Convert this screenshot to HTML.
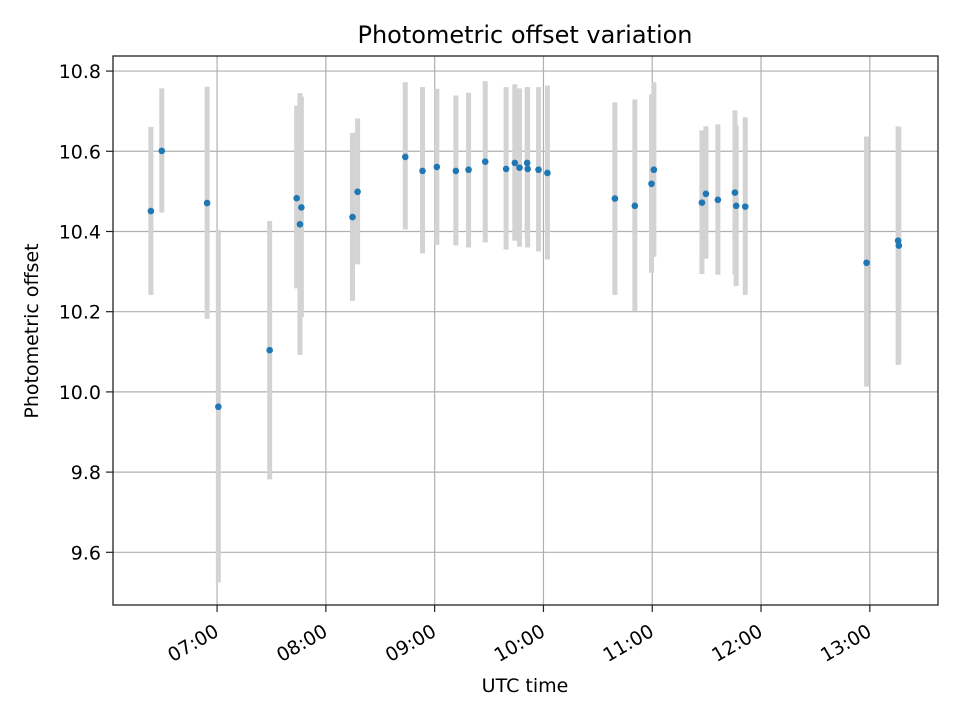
<!DOCTYPE html>
<html><head><meta charset="utf-8"><style>
html,body{margin:0;padding:0;background:#fff;}
svg{display:block;font-family:"DejaVu Sans","Liberation Sans",sans-serif;}
</style></head><body>
<svg id="chart" width="960" height="720" viewBox="0 0 960 720">
<rect x="0" y="0" width="960" height="720" fill="#fff"/>
<text x="525" y="43" font-size="24" text-anchor="middle">Photometric offset variation</text>
<g id="grid"></g>
<g id="bars"></g>
<g id="points"></g>
<rect x="113" y="56" width="825" height="549" fill="none" stroke="#222" stroke-width="1.3"/>
<g id="xaxis"></g>
<g id="yaxis"></g>
<text x="525" y="692" font-size="19" text-anchor="middle">UTC time</text>
<text x="0" y="0" font-size="19" text-anchor="middle" transform="translate(38,331) rotate(-90)">Photometric offset</text>
</svg>
<script>
const times = ["06:23:30","06:29:30","06:54:30","07:00:42","07:29:00","07:43:54","07:45:42","07:46:30","08:14:42","08:17:30","08:43:48","08:53:18","09:01:12","09:11:42","09:18:42","09:27:54","09:39:24","09:44:12","09:46:48","09:51:00","09:51:18","09:57:18","10:02:12","10:39:24","10:50:24","10:59:36","11:00:54","11:27:24","11:29:36","11:36:12","11:45:36","11:46:18","11:51:18","12:58:12","13:15:36","13:16:00"];
const offsets = [10.451,10.601,10.471,9.963,10.104,10.483,10.418,10.460,10.436,10.499,10.586,10.551,10.561,10.551,10.554,10.574,10.556,10.571,10.559,10.571,10.556,10.554,10.546,10.482,10.464,10.519,10.554,10.472,10.494,10.479,10.497,10.464,10.462,10.322,10.377,10.365];
const lower = [10.242,10.447,10.182,9.525,9.782,10.258,10.092,10.186,10.227,10.318,10.405,10.345,10.367,10.365,10.360,10.373,10.355,10.377,10.362,10.384,10.360,10.350,10.330,10.242,10.201,10.297,10.337,10.294,10.332,10.292,10.292,10.264,10.242,10.013,10.067,10.070];
const upper = [10.661,10.757,10.761,10.404,10.426,10.714,10.745,10.736,10.646,10.682,10.772,10.760,10.756,10.739,10.746,10.775,10.760,10.767,10.757,10.760,10.760,10.760,10.764,10.722,10.729,10.742,10.772,10.652,10.662,10.667,10.702,10.665,10.685,10.637,10.662,10.660];
const xTickLabels = ["07:00","08:00","09:00","10:00","11:00","12:00","13:00"];
const yTickLabels = ["9.6","9.8","10.0","10.2","10.4","10.6","10.8"];

const NS = "http://www.w3.org/2000/svg";
const PX0 = 113, PX1 = 938, PY0 = 56, PY1 = 605;
const XMIN = 362.6, XMAX = 817.6, YMIN = 9.4686, YMAX = 10.8376;
function toMin(s){const p=s.split(":").map(Number);return p[0]*60+p[1]+(p[2]||0)/60;}
function xs(m){return PX0+(m-XMIN)/(XMAX-XMIN)*(PX1-PX0);}
function ys(v){return PY1-(v-YMIN)/(YMAX-YMIN)*(PY1-PY0);}
function mk(tag,attrs,parent){const e=document.createElementNS(NS,tag);for(const k in attrs)e.setAttribute(k,attrs[k]);parent.appendChild(e);return e;}

const grid=document.getElementById("grid"), bars=document.getElementById("bars"), pts=document.getElementById("points");
const xa=document.getElementById("xaxis"), ya=document.getElementById("yaxis");

xTickLabels.forEach(lbl=>{
  const x=xs(toMin(lbl));
  const g=mk("line",{x1:x,x2:x,y1:PY0,y2:PY1,stroke:"#b0b0b0","stroke-width":1.2},grid);
  
  
  const t=mk("line",{x1:x,x2:x,y1:PY1,y2:PY1+7,stroke:"#222","stroke-width":1.2},xa);
  
  
  const tx=mk("text",{x:0,y:0,"font-size":19,"text-anchor":"end",transform:`translate(${x+3},${PY1+30}) rotate(-30)`},xa);
  tx.textContent=lbl;
  
  
});
yTickLabels.forEach(lbl=>{
  const y=ys(parseFloat(lbl));
  const g=mk("line",{x1:PX0,x2:PX1,y1:y,y2:y,stroke:"#b0b0b0","stroke-width":1.2},grid);
  
  
  const t=mk("line",{x1:PX0-7,x2:PX0,y1:y,y2:y,stroke:"#222","stroke-width":1.2},ya);
  
  
  const tx=mk("text",{x:PX0-12,y:y+7,"font-size":19,"text-anchor":"end"},ya);
  tx.textContent=lbl;
  
  
});
times.forEach((tm,i)=>{
  const x=xs(toMin(tm));
  const b=mk("line",{x1:x,x2:x,y1:ys(lower[i]),y2:ys(upper[i]),stroke:"#d3d3d3","stroke-width":5},bars);
  
  
});
times.forEach((tm,i)=>{
  const c=mk("circle",{cx:xs(toMin(tm)),cy:ys(offsets[i]),r:3.3,fill:"#1f77b4"},pts);
  
  
});
</script>
</body></html>
